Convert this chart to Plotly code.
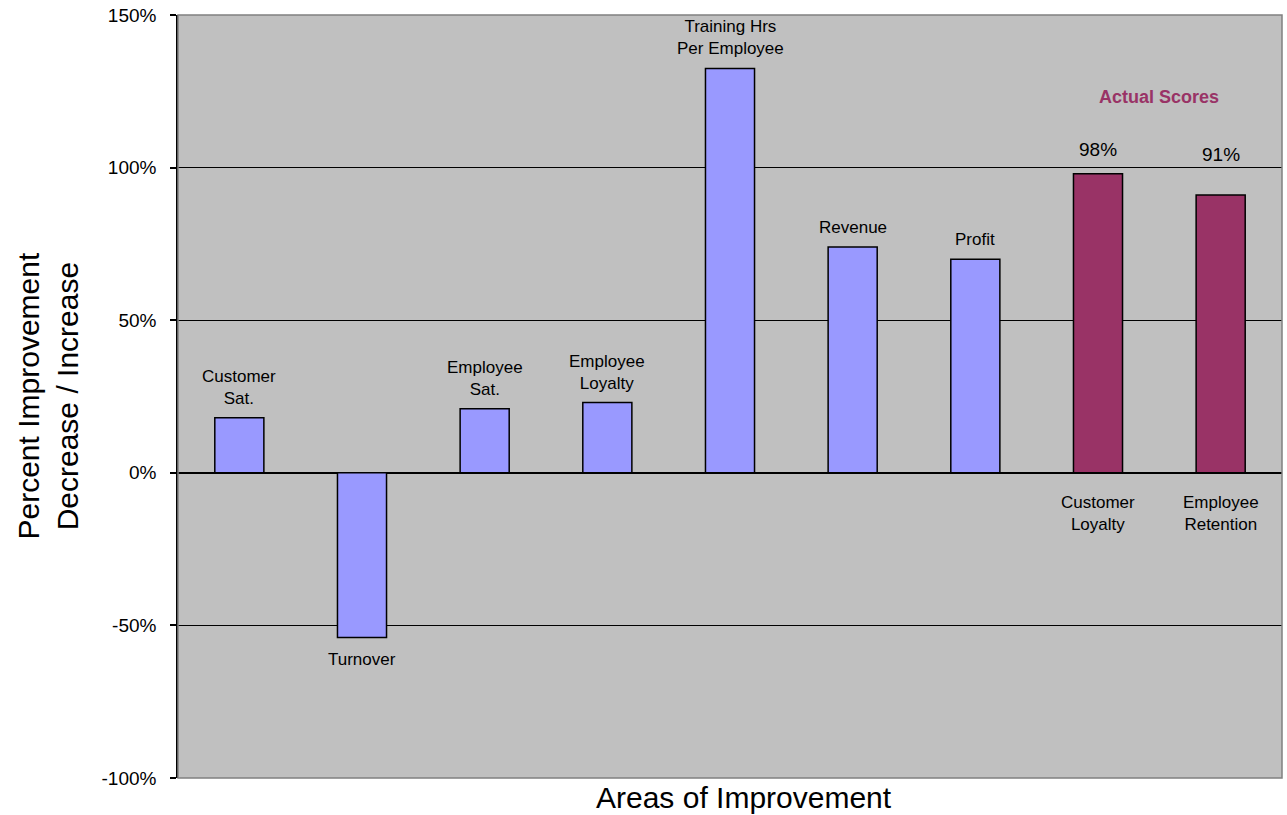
import plotly.graph_objects as go

# Areas of improvement (percent change) and the two actual scores
categories = ["Customer Sat.", "Turnover", "Employee Sat.", "Employee Loyalty",
              "Training Hrs Per Employee", "Revenue", "Profit",
              "Customer Loyalty", "Employee Retention"]
label_text = ["Customer<br>Sat.", "Turnover", "Employee<br>Sat.", "Employee<br>Loyalty",
              "Training Hrs<br>Per Employee", "Revenue", "Profit",
              "Customer<br>Loyalty", "Employee<br>Retention"]
values = [18, -54, 21, 23, 132.5, 74, 70, 98, 91]
is_score = [False, False, False, False, False, False, False, True, True]
tick_vals = [-100, -50, 0, 50, 100, 150]
tick_text = ["-100%", "-50%", "0%", "50%", "100%", "150%"]

BLUE = "#9999FF"
PLUM = "#993366"
FONT = "Liberation Sans, Arial, sans-serif"

colors = [PLUM if s else BLUE for s in is_score]

fig = go.Figure(go.Bar(
    x=categories, y=values,
    marker=dict(color=colors, line=dict(color="black", width=1.5)),
    hoverinfo="skip",
))

annotations = []
# value labels sit above the actual-score bars
score_shift = {"Customer Loyalty": 12, "Employee Retention": 28}
for cat, txt, v, s in zip(categories, label_text, values, is_score):
    if s:
        annotations.append(dict(x=cat, y=0, text=txt, showarrow=False,
                                yanchor="top", yshift=-18,
                                font=dict(family=FONT, size=17, color="black")))
        annotations.append(dict(x=cat, y=v, text=f"{v:.0f}%", showarrow=False,
                                yanchor="bottom", yshift=score_shift[cat],
                                font=dict(family=FONT, size=19, color="black")))
    elif v >= 0:
        annotations.append(dict(x=cat, y=v, text=txt, showarrow=False,
                                yanchor="bottom", yshift=8,
                                font=dict(family=FONT, size=17, color="black")))
    else:
        annotations.append(dict(x=cat, y=v, text=txt, showarrow=False,
                                yanchor="top", yshift=-10,
                                font=dict(family=FONT, size=17, color="black")))

annotations.append(dict(x=7.5, y=123, xref="x", yref="y", text="<b>Actual Scores</b>",
                        showarrow=False, font=dict(family=FONT, size=18, color=PLUM)))

# axis titles
annotations.append(dict(x=0, y=0.5, xref="paper", yref="paper", xanchor="center",
                        yanchor="middle", xshift=-131, showarrow=False,
                        text="Percent Improvement<br>Decrease / Increase", textangle=-90,
                        font=dict(family=FONT, size=30, color="black")))
annotations.append(dict(x=0.513, y=0, xref="paper", yref="paper", yanchor="top",
                        yshift=-1, showarrow=False, text="Areas of Improvement",
                        font=dict(family=FONT, size=30, color="black")))

fig.update_layout(
    width=1287, height=815,
    margin=dict(l=178, r=5, t=15, b=37),
    paper_bgcolor="white",
    plot_bgcolor="#C0C0C0",
    bargap=0.6,
    showlegend=False,
    font=dict(family=FONT, color="black"),
    annotations=annotations,
    shapes=[dict(type="rect", xref="paper", yref="paper", x0=0, x1=1, y0=0, y1=1,
                 line=dict(color="#808080", width=1.5), layer="above")],
)
fig.update_xaxes(showticklabels=False, ticks="", showgrid=False, showline=False,
                 zeroline=False, fixedrange=True)
fig.update_yaxes(range=[-100, 150], tickvals=tick_vals, ticktext=tick_text,
                 showgrid=True, gridcolor="black", gridwidth=1.3,
                 zeroline=True, zerolinecolor="black", zerolinewidth=1.5,
                 showline=True, linecolor="black", linewidth=1.5,
                 ticks="outside", ticklen=6, tickcolor="black", tickwidth=1.5,
                 ticklabelstandoff=10,
                 tickfont=dict(family=FONT, size=19, color="black"), fixedrange=True)

fig.write_html("out.html")
